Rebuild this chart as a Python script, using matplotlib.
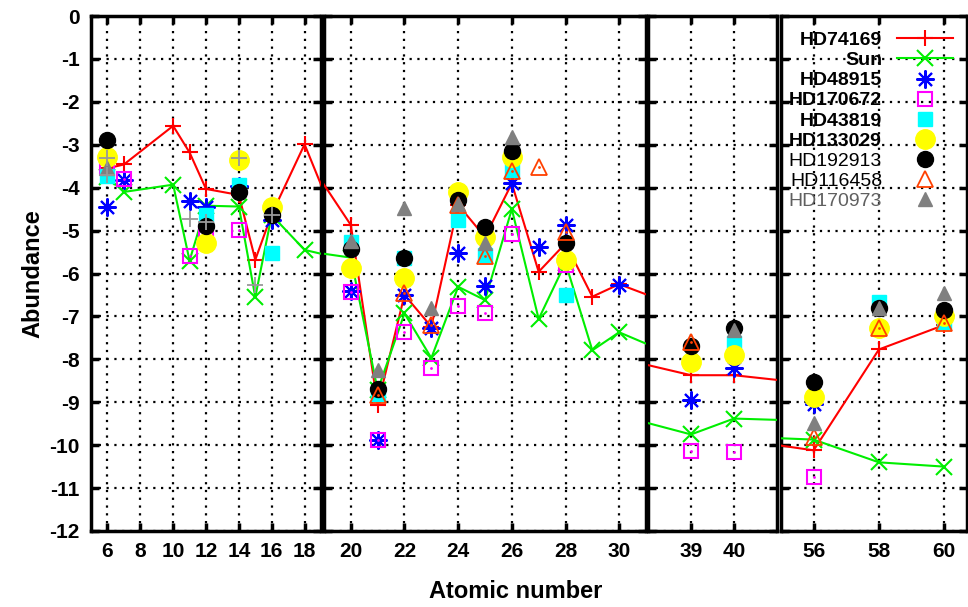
# abundance pattern plot, broken x axis in four panels

import matplotlib
matplotlib.use('Agg')
from matplotlib import pyplot as plt

plt.rcParams['font.family'] = ['Liberation Sans', 'DejaVu Sans']
plt.rcParams['axes.unicode_minus'] = False

# HD74169 (line)
red_x = [6, 7, 10, 11, 12, 14, 15, 16, 18, 20, 21, 22, 23, 24, 25, 26, 27, 28, 29, 30, 39, 40, 56, 58, 60]
red_y = [-3.55, -3.46, -2.56, -3.18, -4.03, -4.17, -5.68, -4.62, -2.99, -4.87, -9.07, -6.5, -7.24, -4.4,
         -5.15, -3.9, -5.96, -5.3, -6.54, -6.25, -8.37, -8.37, -10.12, -7.77, -7.2]

# Sun (line)
sun_x = [6, 7, 10, 11, 12, 14, 15, 16, 18, 20, 21, 22, 23, 24, 25, 26, 27, 28, 29, 30, 39, 40, 56, 58, 60]
sun_y = [-3.75, -4.1, -3.93, -5.7, -4.42, -4.44, -6.55, -4.64, -5.45, -5.63, -8.72, -6.93, -7.97, -6.31,
         -6.62, -4.5, -7.06, -5.75, -7.79, -7.37, -9.75, -9.38, -9.87, -10.4, -10.5]

hd48915_x = [6, 7, 11, 12, 14, 16, 20, 21, 22, 23, 24, 25, 26, 27, 28, 30, 39, 40, 56]
hd48915_y = [-4.44, -3.83, -4.3, -4.45, -3.95, -4.75, -6.4, -9.88, -6.5, -7.27, -5.52, -6.29, -3.9,
             -5.38, -4.87, -6.27, -8.94, -8.21, -9.03]

hd170672_x = [6, 7, 11, 12, 14, 20, 21, 22, 23, 24, 25, 26, 28, 39, 40, 56]
hd170672_y = [-3.55, -3.8, -5.6, -5.05, -4.99, -6.42, -9.88, -7.37, -8.21, -6.76, -6.92, -5.07, -5.8,
              -10.13, -10.17, -10.74]

hd43819_x = [6, 12, 14, 16, 20, 21, 22, 24, 25, 26, 28, 40, 58, 60]
hd43819_y = [-3.72, -4.64, -3.94, -5.53, -5.26, -8.8, -5.65, -4.76, -5.57, -3.59, -6.5, -7.63, -6.66, -7.13]

hd133029_x = [6, 12, 14, 16, 20, 22, 24, 25, 26, 28, 39, 40, 56, 58, 60]
hd133029_y = [-3.28, -5.28, -3.36, -4.44, -5.88, -6.1, -4.1, -5.14, -3.29, -5.69, -8.07, -7.89, -8.87,
              -7.28, -7.0]

hd192913_x = [6, 12, 14, 16, 20, 21, 22, 24, 25, 26, 28, 39, 40, 56, 58, 60]
hd192913_y = [-2.89, -4.9, -4.1, -4.64, -5.44, -8.68, -5.63, -4.29, -4.91, -3.14, -5.28, -7.69, -7.26,
              -8.52, -6.81, -6.85]

hd116458_x = [21, 22, 23, 24, 25, 26, 27, 28, 39, 56, 58, 60]
hd116458_y = [-8.82, -6.46, -7.2, -4.4, -5.6, -3.6, -3.53, -5.03, -7.59, -9.8, -7.26, -7.16]

hd170973_x = [6, 20, 21, 22, 23, 24, 25, 26, 40, 56, 58, 60]
hd170973_y = [-3.55, -5.24, -8.24, -4.48, -6.81, -4.37, -5.3, -2.81, -7.32, -9.49, -6.81, -6.45]

# grey crosses with no key entry
extra_x = [6, 6, 11, 12, 14, 15, 16]
extra_y = [-3.3, -3.71, -4.74, -4.79, -3.3, -6.27, -4.64]

panel_lims = [(5, 19), (19, 31), (38, 41), (55, 60.7)]
panel_ticks = [[6, 8, 10, 12, 14, 16, 18], [20, 22, 24, 26, 28, 30], [39, 40], [56, 58, 60]]
yticks = list(range(-12, 1))

# pixel boxes (left, right) of the panels in a 968x607 figure
W, H = 968.0, 607.0
boxes = [(91, 321), (324, 646), (648, 777), (781, 967)]
top, bottom = 16, 531

fig = plt.figure(figsize=(9.68, 6.07), dpi=100)
axes = []
for (l, r) in boxes:
    ax = fig.add_axes([l / W, 1 - bottom / H, (r - l) / W, (bottom - top) / H])
    axes.append(ax)

for i, ax in enumerate(axes):
    ax.plot(red_x, red_y, color='red', marker='+', ms=12, mew=1.5, lw=1.5, label='HD74169', zorder=3)
    ax.plot(sun_x, sun_y, color='#00ee00', marker='x', ms=11, mew=1.5, lw=1.5, label='Sun', zorder=3)
    ax.plot(hd48915_x, hd48915_y, ls='none', color='blue', marker=(8, 2, 0), ms=13, mew=1.5,
            label='HD48915', zorder=4)
    ax.plot(hd170672_x, hd170672_y, ls='none', marker='s', ms=10, mfc='none', mec='magenta', mew=1.5,
            label='HD170672', zorder=4)
    ax.plot(hd170672_x, hd170672_y, ls='none', marker='.', ms=2, color='magenta', zorder=4)
    ax.plot(hd43819_x, hd43819_y, ls='none', marker='s', ms=10, color='cyan', label='HD43819', zorder=4)
    ax.plot(hd133029_x, hd133029_y, ls='none', marker='o', ms=14, color='yellow', label='HD133029', zorder=4)
    ax.plot(hd192913_x, hd192913_y, ls='none', marker='o', ms=11.5, color='black', label='HD192913', zorder=4)
    ax.plot(hd116458_x, hd116458_y, ls='none', marker='^', ms=11, mfc='none', mec='#ff4000', mew=1.3,
            label='HD116458', zorder=4)
    ax.plot(hd116458_x, hd116458_y, ls='none', marker='.', ms=2, color='#ff4000', zorder=4)
    ax.plot(hd170973_x, hd170973_y, ls='none', marker='^', ms=10, color='#808080', label='HD170973', zorder=4)
    ax.plot(extra_x, extra_y, ls='none', marker='+', ms=12, mew=1.3, color='#999999', zorder=5)

    ax.set_xlim(panel_lims[i])
    ax.set_ylim(-12, 0)
    ax.set_xticks(panel_ticks[i])
    ax.set_yticks(yticks)
    ax.grid(True, color='black', ls=(0, (1, 2.5)), lw=1.6)
    ax.tick_params(direction='in', top=True, right=True, length=6, width=2.5, labelsize=15, pad=8)
    for lab in ax.get_xticklabels():
        lab.set_fontweight('bold')
    if i == 0:
        for lab in ax.get_yticklabels():
            lab.set_fontweight('bold')
    else:
        ax.tick_params(labelleft=False)
    for sp in ax.spines.values():
        sp.set_linewidth(2.5)

axes[0].set_ylabel('Abundance', fontsize=17, fontweight='bold', labelpad=4)
fig.text(516 / W, 1 - 592 / H, 'Atomic number', fontsize=17, fontweight='bold', ha='center', va='center')

leg = axes[3].legend(loc='upper right', bbox_to_anchor=(0.925, 0.97), markerfirst=False, frameon=False,
                     fontsize=14, handlelength=2.9, handletextpad=0.75, labelspacing=0.13, borderpad=0,
                     borderaxespad=0, numpoints=1)
for j, t in enumerate(leg.get_texts()):
    if j < 6:
        t.set_fontweight('bold')
    if j == 8:
        t.set_color('#606060')

fig.savefig('out.png', dpi=100)
